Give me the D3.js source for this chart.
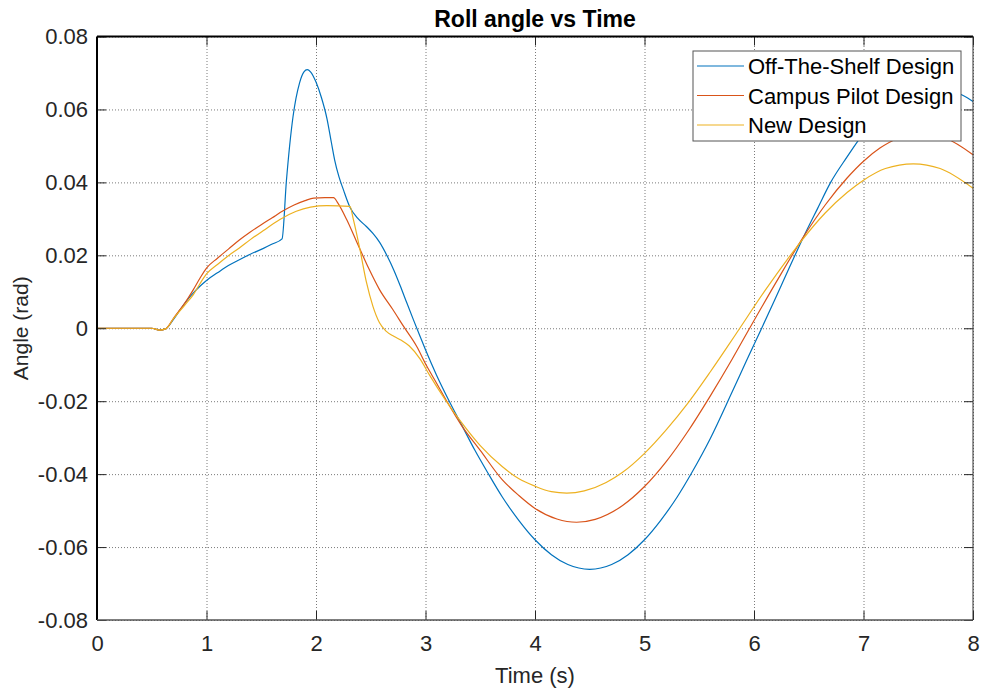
<!DOCTYPE html>
<html>
<head>
<meta charset="utf-8">
<script src="https://cdn.jsdelivr.net/npm/d3@7"></script>
<style>
  body { margin: 0; background: #fff; }
  svg text { font-family: "Liberation Sans", Arial, Helvetica, sans-serif; }
</style>
</head>
<body>
<svg id="chart" width="983" height="694"></svg>
<script>
// values, [time (s), angle (rad)]
const offTheShelf = [
  [0, 0], [0.5, 0], [0.57, -0.0005], [0.63, -0.0001], [0.7, 0.0025], [0.76, 0.0051],
  [0.82, 0.0076], [0.88, 0.0097], [0.94, 0.0115], [1.0, 0.0131], [1.1, 0.0152],
  [1.2, 0.0172], [1.3, 0.0188], [1.4, 0.0203], [1.52, 0.0219], [1.6, 0.0231],
  [1.69, 0.0245], [1.73, 0.0405], [1.79, 0.058], [1.85, 0.0673], [1.89, 0.0703],
  [1.92, 0.0709], [1.95, 0.0703], [2.0, 0.0675], [2.05, 0.0632], [2.1, 0.0575],
  [2.14, 0.051], [2.17, 0.0462], [2.21, 0.0415], [2.25, 0.038], [2.31, 0.0332],
  [2.38, 0.0302], [2.46, 0.0279],
  [2.52, 0.026], [2.58, 0.0236], [2.65, 0.0198], [2.71, 0.016], [2.77, 0.0116],
  [2.83, 0.0069], [2.89, 0.0023], [2.95, -0.0022], [3.0, -0.0059], [3.1, -0.0128],
  [3.21, -0.0196], [3.33, -0.0265], [3.45, -0.0334], [3.57, -0.0397], [3.7, -0.0462],
  [3.85, -0.0526], [4.0, -0.058], [4.15, -0.0621], [4.3, -0.0648], [4.5, -0.0661],
  [4.7, -0.0648], [4.85, -0.0621], [5.0, -0.058], [5.15, -0.0526], [5.3, -0.0462],
  [5.43, -0.0397], [5.6, -0.0303], [5.8, -0.0175], [5.93, -0.009], [6.07, 0],
  [6.25, 0.0118], [6.45, 0.0249], [6.58, 0.0328], [6.7, 0.04], [6.85, 0.047],
  [6.95, 0.0514], [7.1, 0.0572], [7.25, 0.0615], [7.4, 0.0645], [7.6, 0.0662],
  [7.75, 0.0657], [7.91, 0.0638], [8.0, 0.0622]
];

const campusPilot = [
  [0, 0], [0.5, 0], [0.57, -0.0005], [0.63, -0.0001], [0.7, 0.0028], [0.8, 0.0068],
  [0.88, 0.0106], [0.94, 0.0137], [1.0, 0.0165], [1.1, 0.0192], [1.2, 0.0217],
  [1.3, 0.0242], [1.4, 0.0264], [1.5, 0.0284], [1.6, 0.0303], [1.7, 0.0322],
  [1.8, 0.0338], [1.9, 0.035], [1.98, 0.0357], [2.08, 0.0358], [2.16, 0.0358],
  [2.2, 0.0343], [2.28, 0.0298], [2.37, 0.0238], [2.48, 0.0165], [2.58, 0.0106],
  [2.7, 0.0052], [2.8, 0.0005], [2.92, -0.005], [3.01, -0.0103], [3.1, -0.015],
  [3.2, -0.0203], [3.33, -0.0267], [3.5, -0.0335], [3.7, -0.0415], [3.85, -0.0458],
  [4.0, -0.0494], [4.2, -0.0523], [4.38, -0.0532], [4.55, -0.0524], [4.8, -0.0486],
  [5.0, -0.0434], [5.2, -0.0365], [5.4, -0.0281], [5.6, -0.0186], [5.8, -0.0085],
  [5.96, 0], [6.2, 0.0125], [6.45, 0.025], [6.65, 0.0338], [6.85, 0.0412],
  [7.0, 0.0458], [7.15, 0.0494], [7.3, 0.0519], [7.53, 0.0533], [7.75, 0.0521],
  [8.0, 0.0476]
];

const newDesign = [
  [0, 0], [0.5, 0], [0.57, -0.0005], [0.63, -0.0001], [0.7, 0.0027], [0.8, 0.0063],
  [0.88, 0.0092], [0.94, 0.0122], [1.0, 0.0149], [1.1, 0.0175], [1.2, 0.0199],
  [1.3, 0.022], [1.4, 0.0243], [1.52, 0.0268], [1.67, 0.0298], [1.82, 0.0321],
  [1.95, 0.0332], [2.1, 0.0336], [2.31, 0.0334], [2.34, 0.03], [2.4, 0.0218],
  [2.46, 0.0127], [2.52, 0.006], [2.58, 0.0015], [2.64, -0.0008], [2.71, -0.0022],
  [2.78, -0.0033], [2.85, -0.0048], [2.95, -0.0084], [3.04, -0.013], [3.18, -0.0196],
  [3.33, -0.0259], [3.5, -0.0322], [3.7, -0.0379], [3.85, -0.0412], [4.0, -0.0433],
  [4.15, -0.0448], [4.29, -0.0452], [4.45, -0.0446], [4.65, -0.0423], [4.8, -0.0395],
  [5.0, -0.0343], [5.2, -0.0278], [5.4, -0.0204], [5.6, -0.012], [5.75, -0.0054],
  [5.87, 0], [6.1, 0.0103], [6.3, 0.0187], [6.45, 0.0246], [6.65, 0.0316],
  [6.85, 0.0372], [7.0, 0.0406], [7.2, 0.0438], [7.455, 0.0451], [7.7, 0.0438],
  [8.0, 0.0384]
];

const seriesNames = ["Off-The-Shelf Design", "Campus Pilot Design", "New Design"];
const seriesColors = ["#0072BD", "#D95319", "#EDB120"];
const xTicks = [0, 1, 2, 3, 4, 5, 6, 7, 8];
const yTicks = [-0.08, -0.06, -0.04, -0.02, 0, 0.02, 0.04, 0.06, 0.08];

const svg = d3.select("#chart");
const margin = { top: 36.5, right: 10, bottom: 74, left: 97 };
const width = 983 - margin.left - margin.right;
const height = 694 - margin.top - margin.bottom;

const x = d3.scaleLinear().domain([0, 8]).range([0, width]);
const y = d3.scaleLinear().domain([-0.08, 0.08]).range([height, 0]);

const g = svg.append("g").attr("transform", `translate(${margin.left},${margin.top})`);

// dotted grid
g.append("g")
  .attr("class", "grid")
  .attr("transform", `translate(0,${height})`)
  .call(d3.axisBottom(x).tickValues(xTicks).tickSize(-height).tickFormat(""))
  .call((sel) => sel.select(".domain").remove());
g.append("g")
  .attr("class", "grid")
  .call(d3.axisLeft(y).tickValues(yTicks).tickSize(-width).tickFormat(""))
  .call((sel) => sel.select(".domain").remove());
g.selectAll(".grid line")
  .attr("stroke", "#7a7a7a")
  .attr("stroke-width", 1)
  .attr("stroke-dasharray", "1,2");

// curves
const line = d3.line()
  .x((d) => x(d[0]))
  .y((d) => y(d[1]))
  .curve(d3.curveMonotoneX);

[offTheShelf, campusPilot, newDesign].forEach((data, i) => {
  g.append("path")
    .datum(data)
    .attr("fill", "none")
    .attr("stroke", seriesColors[i])
    .attr("stroke-width", 1.2)
    .attr("d", line);
});

// axes with inward ticks
const fmtY = (v) => (v === 0 ? "0" : v.toFixed(2));
const tickColor = "#262626";

const xAxis = g.append("g")
  .attr("transform", `translate(0,${height})`)
  .call(d3.axisBottom(x).tickValues(xTicks).tickSize(-9).tickSizeOuter(0).tickPadding(15).tickFormat(d3.format("d")));
const yAxis = g.append("g")
  .call(d3.axisLeft(y).tickValues(yTicks).tickSize(-9).tickSizeOuter(0).tickPadding(9).tickFormat(fmtY));
const xTop = g.append("g")
  .call(d3.axisTop(x).tickValues(xTicks).tickSize(-9).tickSizeOuter(0).tickFormat(""));
const yRight = g.append("g")
  .attr("transform", `translate(${width},0)`)
  .call(d3.axisRight(y).tickValues(yTicks).tickSize(-9).tickSizeOuter(0).tickFormat(""));

[xAxis, yAxis, xTop, yRight].forEach((ax) => {
  ax.select(".domain").remove();
  ax.selectAll("line").attr("stroke", tickColor);
  ax.selectAll("text")
    .attr("fill", tickColor)
    .style("font-size", "22px");
});

// box
g.append("line").attr("x1", 0).attr("x2", width).attr("y1", 0).attr("y2", 0)
  .attr("stroke", "#000").attr("stroke-width", 2);
g.append("line").attr("x1", 0).attr("x2", 0).attr("y1", 0).attr("y2", height)
  .attr("stroke", "#000").attr("stroke-width", 2);
g.append("line").attr("x1", 0).attr("x2", width).attr("y1", height).attr("y2", height)
  .attr("stroke", "#555").attr("stroke-width", 1.3);
g.append("line").attr("x1", width).attr("x2", width).attr("y1", 0).attr("y2", height)
  .attr("stroke", "#333").attr("stroke-width", 1);

// titles
svg.append("text")
  .attr("x", margin.left + width / 2)
  .attr("y", 27)
  .attr("text-anchor", "middle")
  .style("font-size", "23px")
  .style("font-weight", "bold")
  .attr("fill", "#000")
  .text("Roll angle vs Time");

svg.append("text")
  .attr("x", margin.left + width / 2)
  .attr("y", 683)
  .attr("text-anchor", "middle")
  .style("font-size", "22px")
  .attr("fill", tickColor)
  .text("Time (s)");

svg.append("text")
  .attr("transform", `translate(28,${margin.top + height / 2}) rotate(-90)`)
  .attr("text-anchor", "middle")
  .style("font-size", "21px")
  .attr("fill", tickColor)
  .text("Angle (rad)");

// legend
const legend = svg.append("g").attr("transform", "translate(693,51)");
legend.append("rect")
  .attr("width", 268)
  .attr("height", 90)
  .attr("fill", "#fff")
  .attr("stroke", "#555")
  .attr("stroke-width", 1);

seriesNames.forEach((name, i) => {
  const row = legend.append("g").attr("transform", `translate(0,${15 + i * 29.5})`);
  row.append("line")
    .attr("x1", 4).attr("x2", 51)
    .attr("y1", 0).attr("y2", 0)
    .attr("stroke", seriesColors[i])
    .attr("stroke-width", 1.2);
  row.append("text")
    .attr("x", 55)
    .attr("y", 8)
    .style("font-size", "22px")
    .attr("fill", "#000")
    .text(name);
});
</script>
</body>
</html>
